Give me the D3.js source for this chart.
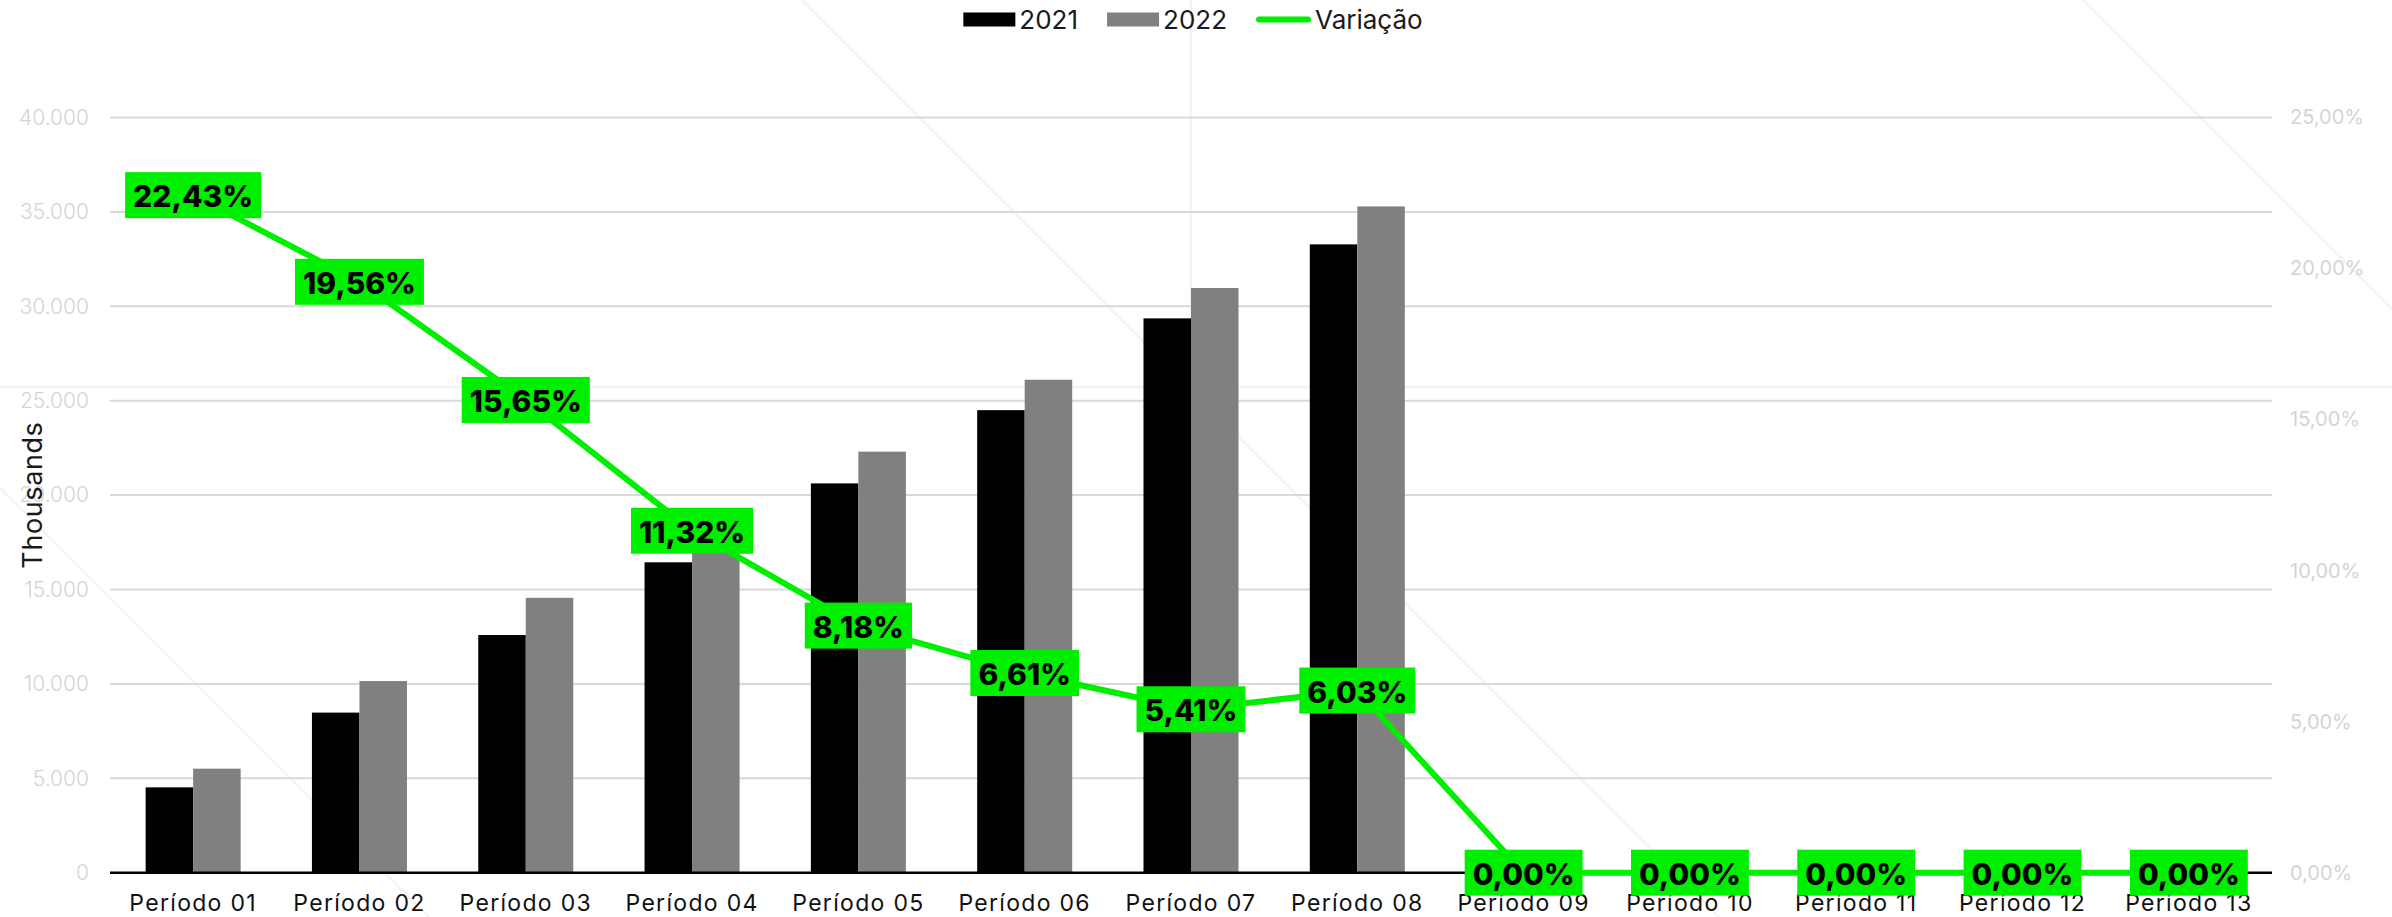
<!DOCTYPE html>
<html><head><meta charset="utf-8">
<script src="https://cdn.jsdelivr.net/npm/d3@7/dist/d3.min.js"></script>
<style>html,body{margin:0;padding:0;background:#fff;} svg{display:block;}</style>
</head><body>
<svg id="chart" width="2392" height="917"></svg>
<script>
// ---- data ----
const categories = ["Período 01","Período 02","Período 03","Período 04","Período 05","Período 06","Período 07","Período 08","Período 09","Período 10","Período 11","Período 12","Período 13"];
const seriesNames = ["2021","2022"];
const values2021 = [4520, 8480, 12590, 16440, 20620, 24500, 29360, 33280, 0, 0, 0, 0, 0];
const values2022 = [5510, 10150, 14560, 18300, 22300, 26110, 30970, 35290, 0, 0, 0, 0, 0];
const lineName = "Variação";
const variacao = [0.2243, 0.1956, 0.1565, 0.1132, 0.0818, 0.0661, 0.0541, 0.0603, 0, 0, 0, 0, 0];
const leftTicks = [0, 5000, 10000, 15000, 20000, 25000, 30000, 35000, 40000];
const rightTicks = [0, 0.05, 0.10, 0.15, 0.20, 0.25];
const axisTitle = "Thousands";

// ---- layout ----
const W = 2392, H = 917;
const plotL = 110, plotR = 2272, plotT = 117.5, plotB = 872.7;
const FONT = "Inter, 'Open Sans', sans-serif";
const GREEN = "#00ee00";
const barColors = {"2021": "#000000", "2022": "#808080"};

const locale = d3.formatLocale({decimal: ",", thousands: ".", grouping: [3], currency: ["R$", ""]});
const fmtLeft = locale.format(",.0f");
const fmtPct = locale.format(".2%");

const svg = d3.select("#chart");

// faint background decoration
const deco = svg.append("g").attr("stroke", "#f3f3f3").attr("fill", "none").attr("stroke-width", 2.5);
deco.append("line").attr("x1", 0).attr("x2", W).attr("y1", 387).attr("y2", 387);
deco.append("line").attr("x1", 1191).attr("x2", 1191).attr("y1", 0).attr("y2", 387);
deco.append("line").attr("x1", 802).attr("y1", 0).attr("x2", 1719).attr("y2", 917);
deco.append("line").attr("x1", 0).attr("y1", 488).attr("x2", 429).attr("y2", 917);
deco.append("line").attr("x1", 2083).attr("y1", 0).attr("x2", 2392).attr("y2", 309);

const x = d3.scaleBand().domain(categories).range([plotL, plotR]).paddingInner(0).paddingOuter(0);
const xs = d3.scaleBand().domain(seriesNames).range([0, x.bandwidth()]).paddingInner(0).paddingOuter(0.75);
const y = d3.scaleLinear().domain([0, 40000]).range([plotB, plotT]);
const y2 = d3.scaleLinear().domain([0, 0.25]).range([plotB, plotT]);

// gridlines
svg.append("g").selectAll("line").data(leftTicks.filter(d => d > 0)).join("line")
  .attr("x1", plotL).attr("x2", plotR)
  .attr("y1", d => y(d)).attr("y2", d => y(d))
  .attr("stroke", "#d9d9d9").attr("stroke-width", 2);

// left axis labels
const leftAxis = d3.axisLeft(y).tickValues(leftTicks).tickFormat(fmtLeft).tickSize(0).tickPadding(21);
const gl = svg.append("g").attr("transform", `translate(${plotL},0)`).call(leftAxis);
gl.select(".domain").remove();
gl.selectAll("text").attr("font-family", FONT).attr("font-size", 21).attr("font-weight", 300).attr("fill", "#d4d4d4");

// right axis labels
const rightAxis = d3.axisRight(y2).tickValues(rightTicks).tickFormat(fmtPct).tickSize(0).tickPadding(18);
const gr = svg.append("g").attr("transform", `translate(${plotR},0)`).call(rightAxis);
gr.select(".domain").remove();
gr.selectAll("text").attr("font-family", FONT).attr("font-size", 20).attr("font-weight", 400).attr("fill", "#d4d4d4");

// axis title
svg.append("text").attr("transform", `translate(32,${(plotT + plotB) / 2}) rotate(-90)`)
  .attr("text-anchor", "middle").attr("dominant-baseline", "central")
  .attr("font-family", FONT).attr("font-size", 27).attr("letter-spacing", 0.6).attr("fill", "#1a1a1a").text(axisTitle);

// bars
const barData = categories.map((c, i) => ({c, vals: [{k: "2021", v: values2021[i]}, {k: "2022", v: values2022[i]}]}));
svg.append("g").selectAll("g").data(barData).join("g")
  .attr("transform", d => `translate(${x(d.c)},0)`)
  .selectAll("rect").data(d => d.vals).join("rect")
  .attr("x", d => xs(d.k)).attr("width", xs.bandwidth())
  .attr("y", d => y(d.v)).attr("height", d => y(0) - y(d.v))
  .attr("fill", d => barColors[d.k]);

// x axis line
svg.append("line").attr("x1", plotL).attr("x2", plotR).attr("y1", y(0)).attr("y2", y(0))
  .attr("stroke", "#000").attr("stroke-width", 2.5);

// x labels
const bottomAxis = d3.axisBottom(x).tickSize(0).tickPadding(0);
const gb = svg.append("g").attr("transform", `translate(0,911)`).call(bottomAxis);
gb.select(".domain").remove();
gb.selectAll("text").attr("font-family", FONT).attr("font-size", 23).attr("letter-spacing", 1.3).attr("fill", "#111")
  .attr("dy", 0).attr("y", 0);

// line
const cx = c => x(c) + x.bandwidth() / 2;
const line = d3.line().x((d, i) => cx(categories[i])).y(d => y2(d));
svg.append("path").datum(variacao).attr("d", line)
  .attr("fill", "none").attr("stroke", GREEN).attr("stroke-width", 6).attr("stroke-linejoin", "round");

// data labels
const lab = svg.append("g").selectAll("g").data(variacao).join("g")
  .attr("transform", (d, i) => `translate(${cx(categories[i])},${y2(d)})`);
lab.append("rect").attr("fill", GREEN);
const labText = lab.append("text").attr("text-anchor", "middle").attr("dominant-baseline", "central")
  .attr("font-family", FONT).attr("font-size", 30).attr("font-weight", 800).attr("fill", "#000")
  .attr("y", 1).text(d => fmtPct(d));
labText.each(function() {
  const w = this.getComputedTextLength();
  d3.select(this.parentNode).select("rect")
    .attr("x", -w / 2 - 8).attr("width", w + 16).attr("y", -23).attr("height", 46);
});

// legend
const legend = svg.append("g");
const items = [
  {type: "rect", color: barColors["2021"], label: seriesNames[0]},
  {type: "rect", color: barColors["2022"], label: seriesNames[1]},
  {type: "line", color: GREEN, label: lineName}
];
let xpos = 0;
items.forEach((it, idx) => {
  const g = legend.append("g").attr("transform", `translate(${xpos},0)`);
  let sw;
  if (it.type === "rect") {
    g.append("rect").attr("x", 0).attr("y", -7).attr("width", 52).attr("height", 14).attr("fill", it.color);
    sw = 52;
  } else {
    g.append("line").attr("x1", 3).attr("x2", 52).attr("y1", 0).attr("y2", 0)
      .attr("stroke", it.color).attr("stroke-width", 6).attr("stroke-linecap", "round");
    sw = 55;
  }
  const t = g.append("text").attr("x", sw + 4).attr("y", 0).attr("dominant-baseline", "central")
    .attr("font-family", FONT).attr("font-size", 26).attr("fill", "#1a1a1a").text(it.label);
  const tw = t.node().getComputedTextLength();
  xpos += sw + 4 + tw + (idx < items.length - 1 ? 29 : 0);
});
legend.attr("transform", `translate(${1193 - xpos / 2},19.5)`);
</script>
</body></html>
